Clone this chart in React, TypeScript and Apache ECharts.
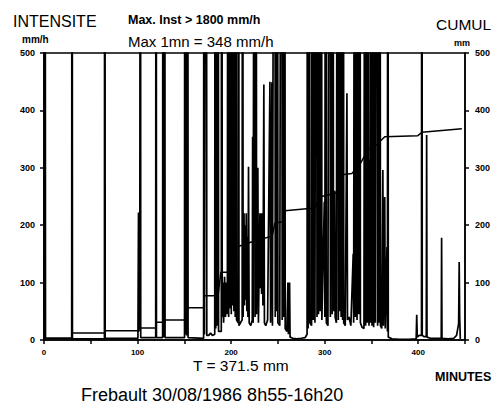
import React, { useEffect, useRef } from "react";
import * as echarts from "echarts";

// X axis (minutes) and Y axes (mm/h, mm)
const xTicks = [0, 100, 200, 300, 400];
const yTicks = [0, 100, 200, 300, 400, 500];

// Intensity (mm/h): [minute, mm/h]; spikes over 500 are clipped (max inst > 1800)
const intensity: [number, number][] = [
  [0, 2], [1, 1800], [1.6, 3], [29.6, 3], [30, 1800], [30.4, 2], [64.6, 2], [65, 1800], [65.4, 3],
  [100.4, 3], [101, 222], [101.4, 15], [102, 222], [102.4, 20], [103, 1800], [103.4, 4],
  [119.4, 4], [119.8, 1800], [120.2, 4],
  [126.8, 4], [127.2, 1800], [127.6, 5], [129, 1800], [129.4, 4],
  [150.2, 4], [150.6, 1800], [151, 10], [152, 1800], [152.4, 8], [153.6, 1800], [154, 4],
  [170.6, 3], [171, 1800], [171.5, 10], [173.5, 1800], [174, 8],
  [176, 8], [178, 12], [180, 8], [182.5, 10], [183, 1800], [183.6, 20], [184.5, 1800], [185, 25], [186, 1800], [186.6, 15],
  [189.5, 15], [190, 1800], [190.5, 40], [191.3, 100], [192, 30], [193, 110], [194, 40], [195, 100], [196, 45],
  [196.8, 1800], [197.4, 40], [198.2, 1800], [198.8, 55], [199.6, 1800], [200.2, 45], [201, 1800], [201.6, 60],
  [202.4, 1800], [203, 50], [203.8, 1800], [204.4, 40], [205.2, 1800], [205.8, 35], [207.6, 30], [208, 1800], [208.4, 25],
  [210, 30], [211.8, 35], [212.3, 1800], [212.8, 40], [213.8, 221], [214.3, 60], [215, 200], [215.5, 70], [216.2, 221],
  [216.8, 50], [217.4, 180], [218, 40], [218.6, 302], [219.3, 30], [221, 25], [222.6, 35], [223, 354], [223.6, 30],
  [225, 1800], [225.6, 40], [226.6, 1800], [227.2, 45], [228.6, 300], [229.2, 30], [230.8, 221], [231.4, 90], [232, 221],
  [232.6, 80], [233.4, 221], [234, 60], [235, 445], [235.6, 30], [237, 25], [239, 35], [241.5, 450], [242.2, 30],
  [243.6, 449], [244.2, 25], [246.6, 1800], [247.2, 40], [248, 1800], [248.6, 50], [249.5, 1800], [250, 30], [252, 25],
  [254, 1800], [254.6, 35], [255.6, 1800], [256.2, 40], [257.2, 1800], [257.8, 20], [259.5, 15], [260.7, 100], [261.2, 10],
  [262.5, 100], [263, 5],
  [266, 3], [270, 2], [275, 3], [279, 4], [281.2, 10], [281.7, 1800], [282.3, 20], [283.6, 1800], [284.2, 30], [286, 25],
  [287.2, 1800], [287.8, 35], [289, 1800], [289.6, 30], [291.2, 1800], [291.8, 40], [292.8, 1800], [293.4, 45],
  [294.6, 1800], [295.2, 50], [296.4, 1800], [297, 35], [299.6, 241], [300.2, 40], [301.2, 1800], [301.8, 30], [303.5, 25],
  [305.5, 1800], [306.1, 40], [307.4, 1800], [308, 45], [308.8, 1800], [309.4, 50], [310.6, 260], [311.2, 40], [312.5, 30],
  [314, 1800], [314.6, 35], [315.8, 1800], [316.4, 50], [317, 221], [317.6, 40], [318.6, 1800], [319.2, 35], [319.8, 1800],
  [320.4, 30], [322, 25], [323.8, 430], [324.4, 35], [326, 40], [328, 25], [330.5, 150], [331, 30], [332.2, 1800],
  [332.8, 40], [334, 1800], [334.6, 35], [335.8, 1800], [336.4, 45], [337.6, 1800], [338.2, 30], [340, 22], [342, 20],
  [343.2, 1800], [343.8, 25], [345, 1800], [345.6, 30], [346.8, 1800], [347.4, 25], [348.5, 315], [349.1, 30], [350, 1800],
  [350.6, 25], [351.8, 1800], [352.4, 22], [353.6, 1800], [354.2, 30], [356, 1800], [356.6, 25], [357.6, 1800], [358.2, 30],
  [359, 1800], [359.6, 25], [361, 20], [362.2, 296], [362.8, 25], [364.2, 249], [364.8, 20], [366.6, 162], [367.1, 15],
  [367.6, 1800], [368, 5],
  [372, 2], [380, 1], [390, 1], [397.8, 2], [398.4, 44], [399, 5], [401, 8], [403.5, 8], [403.9, 1800], [404.3, 8],
  [406, 6], [408.6, 6], [409, 357], [409.4, 5], [413, 3], [420, 3], [424.6, 3], [425, 178], [425.4, 3], [432, 2],
  [438, 3], [441, 8], [442.8, 25], [443.2, 30], [443.8, 136], [444.3, 40], [445, 2],
];

// Cumulative rainfall (mm): [minute, mm]; total T = 371.5 mm
const cumul: [number, number][] = [
  [0, 0], [1, 3], [29.8, 3], [30, 12], [65, 12], [65.2, 16], [101.3, 16], [101.6, 21], [119.6, 21], [119.9, 31],
  [129, 31], [129.3, 35], [151, 35], [151.8, 56], [170.6, 56], [171.2, 77], [186, 77], [189, 118], [196.2, 118],
  [197, 135], [203, 150], [206, 162], [220, 170], [243.6, 181], [244.2, 183], [246.8, 204], [256, 206], [257.4, 225],
  [289.4, 230], [294.6, 249], [316, 258], [318.8, 288], [329, 290], [337.4, 305], [346, 331], [348.4, 334],
  [355.6, 340], [364.2, 354], [399.6, 356], [404, 362], [446.6, 368],
];

const F = "'Liberation Sans', Arial, sans-serif";

export default function App() {
  const ref = useRef<HTMLDivElement>(null);
  useEffect(() => {
    document.body.style.margin = "0";
    const chart = echarts.init(ref.current!, null, { renderer: "svg" });
    const tickLabel = { color: "#000", fontFamily: F, fontWeight: "bold" as const, fontSize: 9 };
    const txt = (text: string, x: number, y: number, size: number, bold = false) => ({
      type: "text",
      x,
      y,
      style: { text, fill: "#000", font: `${bold ? "bold " : ""}${size}px ${F}`, textVerticalAlign: "middle" },
    });
    const axisLine = { show: true, lineStyle: { color: "#000", width: 1.5 } };
    const axisTick = { show: true, length: 4, lineStyle: { color: "#000", width: 1.5 } };
    chart.setOption({
      animation: false,
      backgroundColor: "#fff",
      grid: { left: 44, right: 32, top: 53, bottom: 66, show: true, borderColor: "#000", borderWidth: 1.5, backgroundColor: "transparent" },
      xAxis: {
        type: "value",
        min: 0,
        max: 450,
        interval: 50,
        splitLine: { show: false },
        axisLine,
        axisTick,
        axisLabel: { ...tickLabel, fontSize: 8, margin: 8, formatter: (v: number) => (xTicks.includes(v) ? String(v) : "") },
      },
      yAxis: [
        {
          type: "value",
          min: 0,
          max: 500,
          interval: 100,
          splitLine: { show: false },
          axisLine,
          axisTick,
          axisLabel: { ...tickLabel, margin: 9, formatter: (v: number) => (yTicks.includes(v) ? String(v) : "") },
        },
        {
          type: "value",
          position: "right",
          min: 0,
          max: 500,
          interval: 100,
          splitLine: { show: false },
          axisLine,
          axisTick,
          axisLabel: { ...tickLabel, margin: 10, formatter: (v: number) => (yTicks.includes(v) ? String(v) : "") },
        },
      ],
      series: [
        {
          type: "line",
          data: intensity,
          showSymbol: false,
          clip: true,
          lineStyle: { color: "#000", width: 1.7 },
          silent: true,
        },
        {
          type: "line",
          yAxisIndex: 1,
          data: cumul,
          showSymbol: false,
          clip: true,
          lineStyle: { color: "#000", width: 1.5 },
          silent: true,
        },
      ],
      graphic: [
        txt("INTENSITE", 13, 21, 16),
        txt("mm/h", 22, 39.5, 10, true),
        txt("Max. Inst > 1800 mm/h", 128, 20, 12.5, true),
        txt("Max 1mn = 348 mm/h", 128, 41.5, 15),
        txt("CUMUL", 436, 24.5, 15.5),
        txt("mm", 454, 43, 9, true),
        txt("T = 371.5 mm", 193, 365, 15.5),
        txt("MINUTES", 435, 376.5, 12.5, true),
        txt("Frebault 30/08/1986 8h55-16h20", 81, 395, 18),
      ],
    });
    return () => chart.dispose();
  }, []);
  return <div ref={ref} style={{ position: "absolute", left: 0, top: 0, width: 497, height: 406 }} />;
}
